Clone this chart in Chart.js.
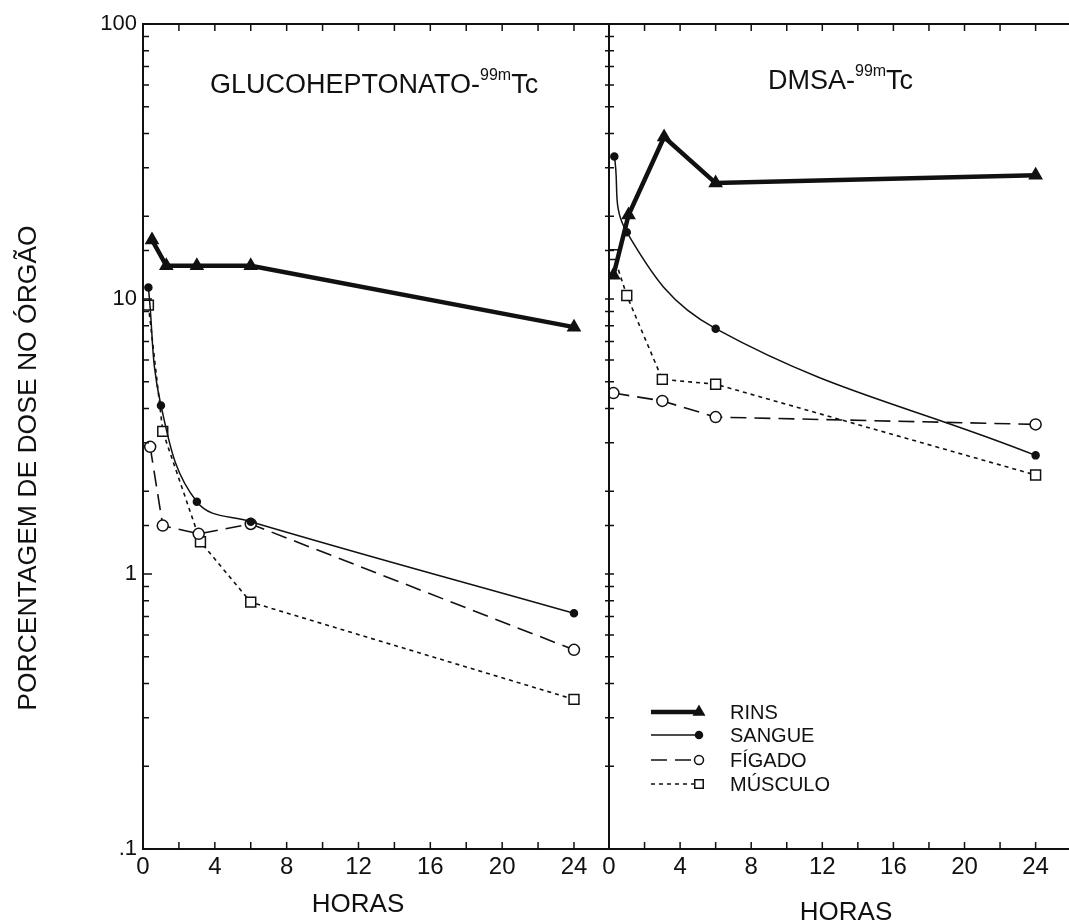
<!DOCTYPE html>
<html>
<head>
<meta charset="utf-8">
<script src="https://cdn.jsdelivr.net/npm/chart.js@4.4.1/dist/chart.umd.min.js"></script>
<style>
  html, body { margin: 0; padding: 0; background: #fff; }
  #wrap { position: relative; width: 1069px; height: 923px; overflow: hidden; }
  #left { position: absolute; left: 0; top: 0; }
  #right { position: absolute; left: 595px; top: 0; }
</style>
</head>
<body>
<div id="wrap">
  <canvas id="left" width="620" height="923"></canvas>
  <canvas id="right" width="474" height="923"></canvas>
</div>
<script>
// eixo y (log) e eixo x (horas)
const yTickValues = [0.1, 1, 10, 100];
const yTickLabels = [".1", "1", "10", "100"];
const xTickLabels = [0, 4, 8, 12, 16, 20, 24];

// painel esquerdo: glucoheptonato
const glucoRinsHoras = [0.5, 1.3, 3, 6, 24];
const glucoRins = [16.4, 13.2, 13.2, 13.2, 7.9];
const glucoSangueHoras = [0.3, 1, 3, 6, 24];
const glucoSangue = [11, 4.1, 1.83, 1.55, 0.72];
const glucoFigadoHoras = [0.4, 1.1, 3.1, 6, 24];
const glucoFigado = [2.9, 1.5, 1.4, 1.52, 0.53];
const glucoMusculoHoras = [0.3, 1.1, 3.2, 6, 24];
const glucoMusculo = [9.5, 3.3, 1.31, 0.79, 0.35];

// painel direito: DMSA
const dmsaRinsHoras = [0.25, 1.1, 3.1, 6, 24];
const dmsaRins = [12.2, 20.2, 38.8, 26.4, 28.2];
const dmsaSangueHoras = [0.3, 1, 6, 24];
const dmsaSangue = [33, 17.5, 7.8, 2.7];
const dmsaFigadoHoras = [0.25, 3, 6, 24];
const dmsaFigado = [4.55, 4.26, 3.72, 3.5];
const dmsaMusculoHoras = [0.25, 1, 3, 6, 24];
const dmsaMusculo = [14.5, 10.3, 5.1, 4.9, 2.29];

const serieNomes = ["RINS", "SANGUE", "FÍGADO", "MÚSCULO"];

const FONT = '"Liberation Sans", Arial, sans-serif';
const INK = "#111";

function pts(horas, vals) {
  return horas.map((h, i) => ({ x: h, y: vals[i] }));
}

const estilos = [
  { borderWidth: 4.5, borderDash: [], pointStyle: "triangle", pointRadius: 7, fill: INK, tension: 0 },
  { borderWidth: 1.5, borderDash: [], pointStyle: "circle", pointRadius: 3.5, fill: INK, tension: 0.4 },
  { borderWidth: 1.6, borderDash: [16, 8], pointStyle: "circle", pointRadius: 5.5, fill: "#fff", tension: 0 },
  { borderWidth: 1.6, borderDash: [4, 4], pointStyle: "rect", pointRadius: 7, fill: "#fff", tension: 0 }
];

function makeDataset(i, horas, vals) {
  const s = estilos[i];
  return {
    label: serieNomes[i],
    data: pts(horas, vals),
    borderColor: INK,
    borderWidth: s.borderWidth,
    borderDash: s.borderDash,
    tension: s.tension,
    pointStyle: s.pointStyle,
    pointRadius: s.pointRadius,
    pointBackgroundColor: s.fill,
    pointBorderColor: INK,
    pointBorderWidth: 1.5,
    order: i
  };
}

function isPow10(v) {
  const l = Math.log10(v);
  return Math.abs(l - Math.round(l)) < 1e-9;
}

function xScale(max, fit) {
  return {
    type: "linear",
    min: 0,
    max: max,
    grid: { display: false, drawTicks: false },
    border: { display: false },
    ticks: {
      stepSize: 2,
      includeBounds: false,
      autoSkip: false,
      maxRotation: 0,
      padding: 4,
      color: INK,
      font: { family: FONT, size: 24 },
      callback: v => (xTickLabels.includes(v) ? String(v) : "")
    },
    afterFit: s => { s.height = fit; }
  };
}

function yScale(show) {
  return {
    type: "logarithmic",
    min: 0.1,
    max: 100,
    display: show,
    grid: { display: false, drawTicks: false },
    border: { display: false },
    ticks: {
      autoSkip: false,
      padding: 6,
      color: INK,
      font: { family: FONT, size: 22 },
      callback: v => {
        const k = yTickValues.findIndex(t => Math.abs(t - v) < 1e-9);
        return k >= 0 ? yTickLabels[k] : "";
      }
    },
    afterFit: s => { if (show) s.width = 143; }
  };
}

// moldura e marcas de escala para dentro
function frameTicks(side) {
  return {
    id: "frameTicks" + side,
    afterDraw(chart) {
      const { ctx, chartArea: a, scales: { x, y } } = chart;
      const W = chart.width;
      ctx.save();
      ctx.strokeStyle = INK;
      ctx.lineWidth = 2;
      ctx.beginPath();
      if (side === "left") {
        ctx.rect(a.left, a.top, a.right - a.left, a.bottom - a.top);
      } else {
        ctx.moveTo(a.left, a.top); ctx.lineTo(W, a.top);
        ctx.moveTo(a.left, a.bottom); ctx.lineTo(W, a.bottom);
        ctx.moveTo(a.left, a.top); ctx.lineTo(a.left, a.bottom);
      }
      ctx.stroke();
      ctx.lineWidth = 1.5;
      ctx.beginPath();
      y.ticks.forEach(t => {
        const py = y.getPixelForValue(t.value);
        const len = isPow10(t.value) ? 9 : 6;
        if (side === "left") {
          ctx.moveTo(a.left, py); ctx.lineTo(a.left + len, py);
        } else {
          ctx.moveTo(a.left - 4, py); ctx.lineTo(a.left + 5, py);
        }
      });
      x.ticks.forEach(t => {
        if (t.value <= 0) return;
        const px = x.getPixelForValue(t.value);
        ctx.moveTo(px, a.top); ctx.lineTo(px, a.top + 7);
        ctx.moveTo(px, a.bottom); ctx.lineTo(px, a.bottom - 7);
      });
      ctx.stroke();
      ctx.restore();
    }
  };
}

function drawSupTitle(ctx, x, base, main, sup, tail) {
  ctx.font = "27px " + FONT;
  ctx.textAlign = "left";
  ctx.textBaseline = "alphabetic";
  ctx.fillText(main, x, base);
  let cx = x + ctx.measureText(main).width;
  ctx.font = "16px " + FONT;
  ctx.fillText(sup, cx, base - 13);
  cx += ctx.measureText(sup).width;
  ctx.font = "27px " + FONT;
  ctx.fillText(tail, cx, base);
}

const textosEsq = {
  id: "textosEsq",
  afterDraw(chart) {
    const ctx = chart.ctx;
    ctx.save();
    ctx.fillStyle = INK;
    drawSupTitle(ctx, 210, 93, "GLUCOHEPTONATO-", "99m", "Tc");
    ctx.font = "26px " + FONT;
    ctx.textAlign = "center";
    ctx.fillText("HORAS", 358, 912);
    ctx.translate(36, 468);
    ctx.rotate(-Math.PI / 2);
    ctx.font = "26.5px " + FONT;
    ctx.fillText("PORCENTAGEM DE DOSE NO ÓRGÃO", 0, 0);
    ctx.restore();
  }
};

const textosDir = {
  id: "textosDir",
  afterDraw(chart) {
    const ctx = chart.ctx;
    const H = Chart.helpers;
    ctx.save();
    ctx.fillStyle = INK;
    drawSupTitle(ctx, 173, 89, "DMSA-", "99m", "Tc");
    ctx.font = "26px " + FONT;
    ctx.textAlign = "center";
    ctx.fillText("HORAS", 251, 920);

    // legenda
    const rowsY = [712, 735, 760, 784];
    const x0 = 56, x1 = 103, xt = 135;
    const raios = [6, 3.5, 4.5, 6];
    ctx.strokeStyle = INK;
    serieNomes.forEach((nome, i) => {
      const s = estilos[i];
      const yy = rowsY[i];
      ctx.lineWidth = s.borderWidth;
      ctx.setLineDash(s.borderDash);
      ctx.beginPath();
      ctx.moveTo(x0, yy);
      ctx.lineTo(x1 - (i >= 2 ? 4 : 0), yy);
      ctx.stroke();
      ctx.setLineDash([]);
      ctx.lineWidth = 1.5;
      ctx.fillStyle = s.fill;
      H.drawPoint(ctx, { pointStyle: s.pointStyle, radius: raios[i], rotation: 0, borderWidth: 1.5 }, x1 + 1, yy);
      ctx.fillStyle = INK;
      ctx.font = "20px " + FONT;
      ctx.textAlign = "left";
      ctx.textBaseline = "middle";
      ctx.fillText(nome, xt, yy + 1);
    });
    ctx.restore();
  }
};

function baseOptions(padding, xMax, showY) {
  return {
    responsive: false,
    animation: false,
    layout: { padding: padding },
    plugins: { legend: { display: false }, tooltip: { enabled: false } },
    scales: { x: xScale(xMax, 74), y: yScale(showY) }
  };
}

new Chart(document.getElementById("left"), {
  type: "line",
  data: {
    datasets: [
      makeDataset(0, glucoRinsHoras, glucoRins),
      makeDataset(1, glucoSangueHoras, glucoSangue),
      makeDataset(2, glucoFigadoHoras, glucoFigado),
      makeDataset(3, glucoMusculoHoras, glucoMusculo)
    ]
  },
  options: baseOptions({ top: 24, left: 0, right: 11, bottom: 0 }, 25.95, true),
  plugins: [frameTicks("left"), textosEsq]
});

new Chart(document.getElementById("right"), {
  type: "line",
  data: {
    datasets: [
      makeDataset(0, dmsaRinsHoras, dmsaRins),
      makeDataset(1, dmsaSangueHoras, dmsaSangue),
      makeDataset(2, dmsaFigadoHoras, dmsaFigado),
      makeDataset(3, dmsaMusculoHoras, dmsaMusculo)
    ]
  },
  options: baseOptions({ top: 24, left: 14, right: 1, bottom: 0 }, 25.4, false),
  plugins: [frameTicks("right"), textosDir]
});
</script>
</body>
</html>
